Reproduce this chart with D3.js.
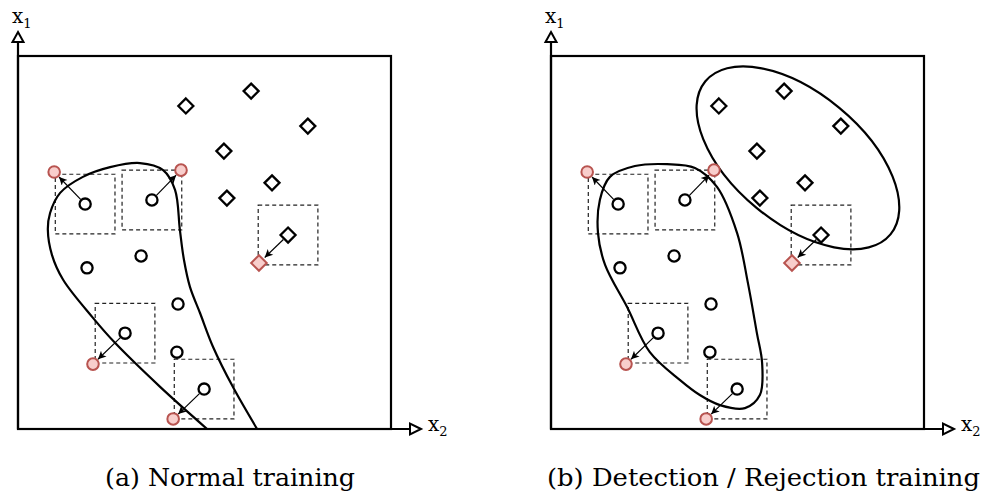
<!DOCTYPE html>
<html>
<head>
<meta charset="utf-8">
<script src="https://cdn.jsdelivr.net/npm/d3@7"></script>
<style>
  html, body { margin: 0; padding: 0; background: #fff; }
  svg { display: block; }
</style>
</head>
<body>
<svg id="fig" width="984" height="491"></svg>
<script>
// ---- data (feature space, both axes 0..10) ----
const normalX2 = [1.80, 3.59, 1.85, 3.30, 4.29, 2.87, 4.26, 4.99];
const normalX1 = [6.03, 6.14, 4.32, 4.64, 3.35, 2.57, 2.06, 1.07];

const anomalyX2 = [4.50, 6.25, 7.77, 5.52, 6.81, 5.60, 7.24];
const anomalyX1 = [8.66, 9.06, 8.12, 7.45, 6.60, 6.19, 5.20];

// perturbed samples: source index, class, adversarial position
const advSource = [0, 1, 5, 7, 6];
const advClass  = ["normal", "normal", "normal", "normal", "anomaly"];
const advX2     = [0.97, 4.37, 2.01, 4.16, 6.46];
const advX1     = [6.89, 6.94, 1.74, 0.27, 4.45];
const epsilon   = 0.80;   // half-width of the perturbation box

// decision boundary of normal training (open, meets the x2 axis)
const boundaryAX2 = [5.07, 3.81, 2.60, 2.01, 1.21, 0.91, 0.80, 0.86, 1.13, 1.74, 2.47, 3.27, 3.89, 4.21, 4.34, 4.45, 4.61, 4.88, 5.23, 5.76, 6.41];
const boundaryAX1 = [0.00, 1.13, 2.31, 2.98, 4.00, 4.67, 5.34, 5.79, 6.33, 6.76, 7.02, 7.13, 6.94, 6.41, 5.34, 4.53, 3.81, 3.11, 2.20, 1.13, 0.00];

// closed region around the normal class (detection / rejection training)
const regionNX2 = [3.11, 3.86, 4.45, 4.99, 5.28, 5.52, 5.66, 5.60, 5.20, 4.53, 3.99, 3.46, 2.65, 2.04, 1.45, 1.26, 1.31, 1.58, 2.25];
const regionNX1 = [7.10, 7.00, 6.49, 5.25, 3.91, 2.57, 1.77, 0.91, 0.56, 0.64, 0.91, 1.31, 2.06, 3.27, 4.40, 5.25, 6.14, 6.76, 7.05];

// elliptical region around the anomaly class
const regionAcx = 6.62, regionAcy = 7.27, regionArx = 3.22, regionAry = 1.74, regionAangle = 39.6;

const captions = ["(a) Normal training", "(b) Detection / Rejection training"];
const axisNames = ["x", "x"];
const axisSubs = ["1", "2"];

// ---- layout ----
const size = 373;
const panels = [{ left: 18, top: 56, caption: captions[0], capX: 105, capW: 250, mode: "a" },
                { left: 551, top: 56, caption: captions[1], capX: 547, capW: 433, mode: "b" }];
const x = d3.scaleLinear().domain([0, 10]).range([0, size]);
const y = d3.scaleLinear().domain([0, 10]).range([size, 0]);

const RED_FILL = "#f8cecc", RED_STROKE = "#b85450";
const SERIF = "'DejaVu Serif', 'Liberation Serif', serif";

const svg = d3.select("#fig");
const defs = svg.append("defs");
defs.append("marker")
  .attr("id", "arrowhead").attr("viewBox", "0 0 10 10")
  .attr("refX", 10).attr("refY", 5)
  .attr("markerWidth", 9).attr("markerHeight", 8)
  .attr("markerUnits", "userSpaceOnUse")
  .attr("orient", "auto")
  .append("path").attr("d", "M0,0 L10,5 L0,10 L2.5,5 Z").attr("fill", "#000");

defs.append("clipPath").attr("id", "boxclip")
  .append("rect").attr("x", 0).attr("y", 0).attr("width", size).attr("height", size);

const normals = normalX2.map((v, i) => ({ x2: v, x1: normalX1[i] }));
const anomalies = anomalyX2.map((v, i) => ({ x2: v, x1: anomalyX1[i] }));
const adv = advSource.map((s, i) => {
  const src = advClass[i] === "normal" ? normals[s] : anomalies[s];
  return { src, cls: advClass[i], x2: advX2[i], x1: advX1[i] };
});

const diamondPath = (h) => `M0,${-h} L${h},0 L0,${h} L${-h},0 Z`;
const curveLine = d3.line().x(d => x(d[0])).y(d => y(d[1])).curve(d3.curveCatmullRom.alpha(0.5));
const closedLine = d3.line().x(d => x(d[0])).y(d => y(d[1])).curve(d3.curveCatmullRomClosed.alpha(0.5));

panels.forEach(p => {
  const g = svg.append("g").attr("transform", `translate(${p.left},${p.top})`);

  // perturbation boxes
  g.selectAll("rect.eps").data(adv).join("rect")
    .attr("x", d => x(d.src.x2 - epsilon))
    .attr("y", d => y(d.src.x1 + epsilon))
    .attr("width", d => x(d.src.x2 + epsilon) - x(d.src.x2 - epsilon))
    .attr("height", d => y(d.src.x1 - epsilon) - y(d.src.x1 + epsilon))
    .attr("fill", "none").attr("stroke", "#222").attr("stroke-width", 1.2)
    .attr("stroke-dasharray", "4,3");

  // decision regions
  const bg = g.append("g").attr("clip-path", "url(#boxclip)");
  if (p.mode === "a") {
    bg.append("path")
      .attr("d", curveLine(boundaryAX2.map((v, i) => [v, boundaryAX1[i]])))
      .attr("fill", "none").attr("stroke", "#000").attr("stroke-width", 2.2);
  } else {
    bg.append("path")
      .attr("d", closedLine(regionNX2.map((v, i) => [v, regionNX1[i]])))
      .attr("fill", "none").attr("stroke", "#000").attr("stroke-width", 2.2);
    bg.append("ellipse")
      .attr("cx", 0).attr("cy", 0)
      .attr("rx", x(regionArx) - x(0)).attr("ry", x(regionAry) - x(0))
      .attr("transform", `translate(${x(regionAcx)},${y(regionAcy)}) rotate(${regionAangle})`)
      .attr("fill", "none").attr("stroke", "#000").attr("stroke-width", 2.2);
  }

  // perturbation arrows
  g.selectAll("line.pert").data(adv).join("line")
    .each(function (d) {
      const x0 = x(d.src.x2), y0 = y(d.src.x1), x1 = x(d.x2), y1 = y(d.x1);
      const len = Math.hypot(x1 - x0, y1 - y0);
      const ux = (x1 - x0) / len, uy = (y1 - y0) / len;
      const s = 6.5, e = d.cls === "normal" ? 7 : 8;
      d3.select(this)
        .attr("x1", x0 + ux * s).attr("y1", y0 + uy * s)
        .attr("x2", x1 - ux * e).attr("y2", y1 - uy * e);
    })
    .attr("stroke", "#000").attr("stroke-width", 1.2)
    .attr("marker-end", "url(#arrowhead)");

  // clean samples
  g.selectAll("circle.normal").data(normals).join("circle")
    .attr("cx", d => x(d.x2)).attr("cy", d => y(d.x1)).attr("r", 5.6)
    .attr("fill", "#fff").attr("stroke", "#000").attr("stroke-width", 2.3);
  g.selectAll("path.anomaly").data(anomalies).join("path")
    .attr("d", diamondPath(7.5))
    .attr("transform", d => `translate(${x(d.x2)},${y(d.x1)})`)
    .attr("fill", "#fff").attr("stroke", "#000").attr("stroke-width", 2.3);

  // adversarial samples
  adv.forEach(d => {
    if (d.cls === "normal") {
      g.append("circle").attr("cx", x(d.x2)).attr("cy", y(d.x1)).attr("r", 5.8)
        .attr("fill", RED_FILL).attr("stroke", RED_STROKE).attr("stroke-width", 2);
    } else {
      g.append("path").attr("d", diamondPath(7.8))
        .attr("transform", `translate(${x(d.x2)},${y(d.x1)})`)
        .attr("fill", RED_FILL).attr("stroke", RED_STROKE).attr("stroke-width", 2);
    }
  });

  // frame
  g.append("rect").attr("x", 0).attr("y", 0).attr("width", size).attr("height", size)
    .attr("fill", "none").attr("stroke", "#000").attr("stroke-width", 2.2);

  // axes with open arrowheads
  const vTip = -24, hTip = size + 30;
  g.append("line").attr("x1", 0).attr("y1", size).attr("x2", 0).attr("y2", vTip + 10)
    .attr("stroke", "#000").attr("stroke-width", 2.2);
  g.append("line").attr("x1", 0).attr("y1", size).attr("x2", hTip - 11).attr("y2", size)
    .attr("stroke", "#000").attr("stroke-width", 2.2);
  g.append("path").attr("d", `M0,${vTip} L5.5,${vTip + 10} L-5.5,${vTip + 10} Z`)
    .attr("fill", "#fff").attr("stroke", "#000").attr("stroke-width", 2)
    .attr("stroke-linejoin", "miter");
  g.append("path").attr("d", `M${hTip},${size} L${hTip - 11},${size - 5.5} L${hTip - 11},${size + 5.5} Z`)
    .attr("fill", "#fff").attr("stroke", "#000").attr("stroke-width", 2)
    .attr("stroke-linejoin", "miter");

  // axis names
  const t1 = g.append("text").attr("x", -6).attr("y", -33)
    .attr("font-family", SERIF).attr("font-size", 20).attr("fill", "#000");
  t1.append("tspan").text(axisNames[0]);
  t1.append("tspan").attr("dy", 5).attr("font-size", 13).text(axisSubs[0]);
  const t2 = g.append("text").attr("x", size + 37).attr("y", size + 2)
    .attr("font-family", SERIF).attr("font-size", 20).attr("fill", "#000");
  t2.append("tspan").text(axisNames[1]);
  t2.append("tspan").attr("dy", 5).attr("font-size", 13).text(axisSubs[1]);

  // caption
  svg.append("text").attr("x", p.capX).attr("y", 486)
    .attr("font-family", SERIF).attr("font-size", 24).attr("fill", "#000")
    .attr("textLength", p.capW).attr("lengthAdjust", "spacingAndGlyphs")
    .text(p.caption);
});
</script>
</body>
</html>
